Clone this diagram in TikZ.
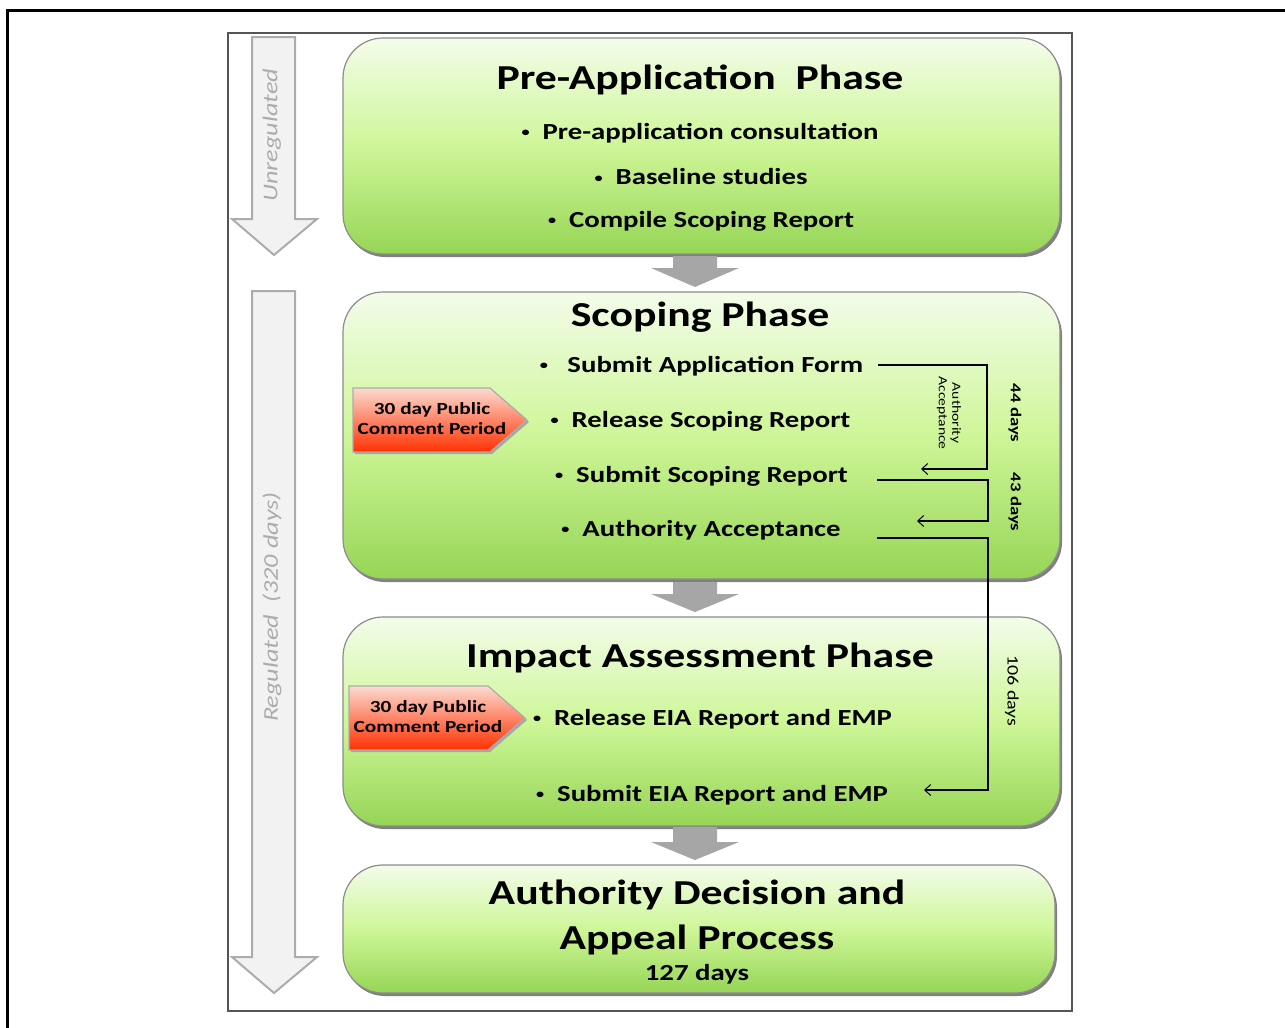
\documentclass[tikz,border=0pt]{standalone}
\usepackage{fontspec}
\setmainfont{Carlito}[FakeStretch=1.25]
\usetikzlibrary{arrows.meta,shadows}
\definecolor{gtop}{RGB}{243,252,234}
\definecolor{gmid}{RGB}{206,246,152}
\definecolor{gbot}{RGB}{150,213,86}
\definecolor{rtop}{RGB}{252,218,208}
\definecolor{rbot}{RGB}{255,48,0}
\definecolor{bigarrow}{RGB}{166,166,166}
\definecolor{lightfill}{RGB}{242,242,242}
\definecolor{lightedge}{RGB}{172,172,172}
\definecolor{boxedge}{RGB}{140,140,140}
\definecolor{frameedge}{RGB}{85,85,85}
\newcommand{\bu}{{\fontsize{13}{13}\selectfont\raisebox{0.22em}{•}}}
\tikzset{
  phase/.style={rounded corners=40pt, draw=boxedge, line width=1.2pt,
    top color=gtop, bottom color=gbot, middle color=gmid,
    drop shadow={shadow xshift=2pt, shadow yshift=-3pt, fill=black!50, opacity=1},
    inner sep=0pt},
  ttl/.style={font=\fontsize{35}{45}\selectfont\bfseries, inner sep=0pt, align=center},
  bul/.style={font=\fontsize{23}{27}\selectfont\bfseries, inner sep=0pt},
  redbox/.style={draw=lightedge, line width=1.2pt, top color=rtop, bottom color=rbot,
    drop shadow={shadow xshift=2pt, shadow yshift=-2pt, fill=black!35, opacity=1}},
  redtxt/.style={font=\fontsize{17}{20}\selectfont\bfseries, align=center, inner sep=0pt},
  sidearrow/.style={fill=lightfill, draw=lightedge, line width=2pt, line join=miter},
  sidetext/.style={font=\fontsize{21}{25}\selectfont\itshape, text=lightedge, inner sep=0pt},
  downarrow/.style={fill=bigarrow, draw=none},
  conn/.style={line width=1.2pt, -{Straight Barb[length=6pt,width=11pt,line width=1pt]}},
  daytxt/.style={font=\fontsize{15}{18}\selectfont\bfseries, inner sep=0pt},
  smalltxt/.style={font=\fontsize{12.5}{13.5}\selectfont, align=center, inner sep=0pt}
}
\begin{document}
\begin{tikzpicture}[x=1pt,y=-1pt]
\useasboundingbox (0,0) rectangle (1285,1028);
% outer frame
\draw[line width=3pt] (7,1035) -- (7,10) -- (1290,10);
% inner frame
\draw[line width=1.3pt, frameedge] (228,33) rectangle (1072,1011);

% side arrows
\draw[sidearrow] (252,37) -- (295,37) -- (295,219) -- (317,219) -- (274,255) -- (232,219) -- (252,219) -- cycle;
\node[sidetext, rotate=90] (unreg) at (272,135) {Unregulated};
\draw[sidearrow] (252,291) -- (295,291) -- (295,957) -- (317,957) -- (274,993) -- (232,957) -- (252,957) -- cycle;
\node[sidetext, rotate=90] (reg) at (272,607) {Regulated~ (320 days)};

% phase boxes
\node[phase, minimum width=717pt, minimum height=216pt] (pre) at (701.5,146) {};
\node[phase, minimum width=717pt, minimum height=287pt] (scop) at (701.5,435.5) {};
\node[phase, minimum width=717pt, minimum height=209pt] (imp) at (701.5,721.5) {};
\node[phase, minimum width=712pt, minimum height=128pt] (dec) at (699,929) {};

% down arrows between boxes
\fill[downarrow] (673,256) -- (717,256) -- (717,268) -- (739,268) -- (695,287) -- (651,268) -- (673,268) -- cycle;
\fill[downarrow] (673,582) -- (717,582) -- (717,594) -- (739,594) -- (695,612) -- (651,594) -- (673,594) -- cycle;
\fill[downarrow] (673,827) -- (717,827) -- (717,842) -- (739,842) -- (695,860) -- (651,842) -- (673,842) -- cycle;

% Pre-application texts
\node[ttl] (preT) at (700,80) {Pre-Application~ Phase};
\node[bul] (preB1) at (700,133) {\bu~ Pre-application consultation};
\node[bul] (preB2) at (701,177) {\bu~ Baseline studies};
\node[bul] (preB3) at (701,221) {\bu~ Compile Scoping Report};

% Scoping texts
\node[ttl] (scopT) at (700,317) {Scoping Phase};
\node[bul] (sc1) at (701.5,366) {\bu~~ Submit Application Form};
\node[bul] (sc2) at (700.5,421) {\bu~ Release Scoping Report};
\node[bul] (sc3) at (701.5,476) {\bu~ Submit Scoping Report};
\node[bul] (sc4) at (701,530) {\bu~ Authority Acceptance};

% red signal 1
\path[redbox] (353,388) -- (490,388) -- (527,420) -- (490,452) -- (353,452) -- cycle;
\node[redtxt] (pc1) at (432,419) {30 day Public\\Comment Period};
% red signal 2
\path[redbox] (349,686) -- (488,686) -- (525,718) -- (488,750) -- (349,750) -- cycle;
\node[redtxt] (pc2) at (428,717) {30 day Public\\Comment Period};

% Impact texts
\node[ttl] (impT) at (700,658) {Impact Assessment Phase};
\node[bul] (im1) at (712.5,719) {\bu~ Release EIA Report and EMP};
\node[bul] (im2) at (712,795) {\bu~ Submit EIA Report and EMP};

% Decision texts
\node[ttl] (decT) at (697,917) {Authority Decision and\\Appeal Process};
\node[font=\fontsize{23}{26}\selectfont\bfseries, inner sep=0pt] (decD) at (697,974) {127 days};

% connectors
\coordinate (a1s) at (878,365); \coordinate (a1c) at (987,365); \coordinate (a1d) at (987,469); \coordinate (a1e) at (921,469);
\coordinate (a2s) at (877,480); \coordinate (a2c) at (988,480); \coordinate (a2d) at (988,521); \coordinate (a2e) at (917,521);
\coordinate (a3s) at (877,538); \coordinate (a3c) at (988,538); \coordinate (a3d) at (988,790); \coordinate (a3e) at (924,790);
\draw[conn] (a1s) -- (a1c) -- (a1d) -- (a1e);
\draw[conn] (a2s) -- (a2c) -- (a2d) -- (a2e);
\draw[conn] (a3s) -- (a3c) -- (a3d) -- (a3e);

\node[smalltxt, rotate=-90] (authacc) at (949,413) {Authority\\Acceptance};
\node[daytxt, rotate=-90] (d44) at (1015,413) {44 days};
\node[daytxt, rotate=-90] (d43) at (1015,502) {43 days};
\node[daytxt, font=\fontsize{16}{19}\selectfont, rotate=-90] (d106) at (1012,691) {106 days};
\end{tikzpicture}
\end{document}
